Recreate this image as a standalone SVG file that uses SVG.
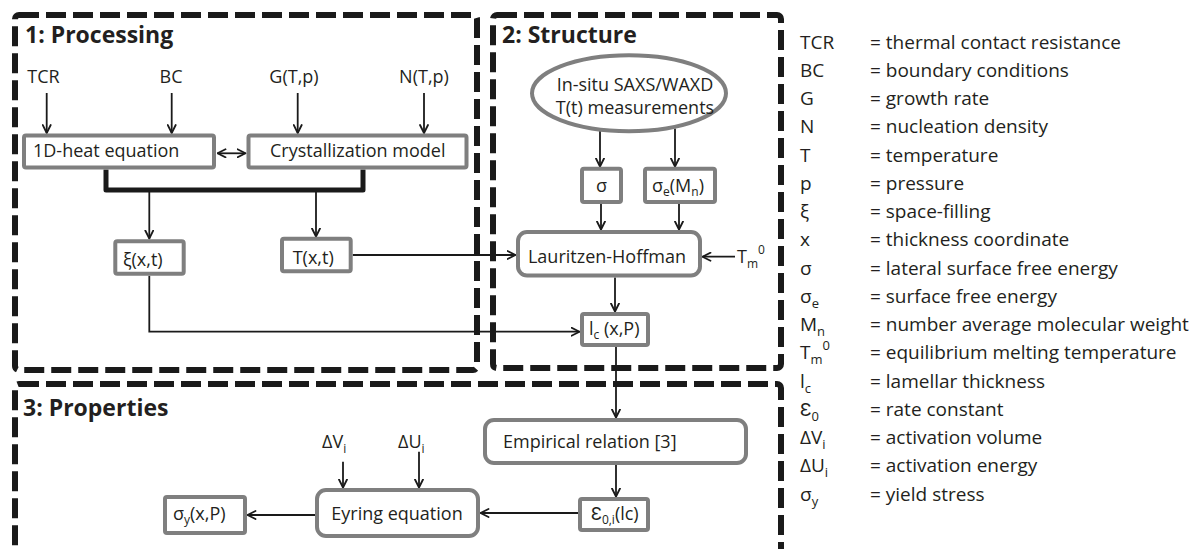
<svg xmlns="http://www.w3.org/2000/svg" width="1204" height="549" viewBox="0 0 1204 549">
<defs>
<style>
.frame{fill:none;stroke:#1a1a1a;stroke-width:6;stroke-dasharray:20 7}
.box{fill:#fff;stroke:#7f7f7f;stroke-width:4}
.t{font-family:"Open Sans","Liberation Sans",sans-serif;font-size:18px;fill:#231f20}
.title{font-family:"Open Sans","Liberation Sans",sans-serif;font-size:23px;font-weight:bold;fill:#231f20}
.lg{font-family:"Open Sans","Liberation Sans",sans-serif;font-size:19px;fill:#231f20}
.s{font-size:12px}
.ls{font-size:13px}
.c{fill:none;stroke:#1a1a1a;stroke-width:1.8}
.bar{fill:none;stroke:#1a1a1a;stroke-width:5;stroke-linejoin:round}
</style>
<marker id="ah" viewBox="0 0 10 10" refX="9" refY="5" markerWidth="10" markerHeight="10" markerUnits="userSpaceOnUse" orient="auto-start-reverse">
<path d="M1,1 L9,5 L1,9" fill="none" stroke="#1a1a1a" stroke-width="1.8" stroke-linecap="round" stroke-linejoin="round"/>
</marker>
</defs>
<rect width="1204" height="549" fill="#fff"/>

<g id="frames">
<g id="frame-processing"><rect class="frame" x="15" y="15" width="462" height="355" rx="4"/><text class="title" x="25" y="43">1: Processing</text></g>
<g id="frame-structure"><rect class="frame" x="493" y="15" width="288" height="353" rx="4"/><text class="title" x="502" y="43">2: Structure</text></g>
<g id="frame-properties"><rect class="frame" x="15" y="384" width="766" height="170" rx="4"/><text class="title" x="23" y="416">3: Properties</text></g>
</g>

<g id="connectors">
<path class="c" d="M46.7,93 V133" marker-end="url(#ah)"/>
<path class="c" d="M171.7,93 V133" marker-end="url(#ah)"/>
<path class="c" d="M297.7,93 V133" marker-end="url(#ah)"/>
<path class="c" d="M424,93 V133" marker-end="url(#ah)"/>
<path class="c" d="M217.5,153.3 H245.5" marker-start="url(#ah)" marker-end="url(#ah)"/>
<path class="bar" d="M106,169.5 V190 H363 V169.5"/>
<path class="c" d="M149.3,192 V238.5" marker-end="url(#ah)"/>
<path class="c" d="M316,192 V236.5" marker-end="url(#ah)"/>
<path class="c" d="M352.7,255 H515.5" marker-end="url(#ah)"/>
<path class="c" d="M149.3,275.7 V331.7 H579.5" marker-end="url(#ah)"/>
<path class="c" d="M600,131 V166.5" marker-end="url(#ah)"/>
<path class="c" d="M675,128.5 V166.5" marker-end="url(#ah)"/>
<path class="c" d="M601,204 V229.5" marker-end="url(#ah)"/>
<path class="c" d="M679,204 V229.5" marker-end="url(#ah)"/>
<path class="c" d="M735,256.7 H702.5" marker-end="url(#ah)"/>
<path class="c" d="M615,277.5 V311.5" marker-end="url(#ah)"/>
<path class="c" d="M616,347 V417.5" marker-end="url(#ah)"/>
<path class="c" d="M616,465 V496.5" marker-end="url(#ah)"/>
<path class="c" d="M578,513 H480.5" marker-end="url(#ah)"/>
<path class="c" d="M343,461.7 V487.5" marker-end="url(#ah)"/>
<path class="c" d="M419,451.7 V487.5" marker-end="url(#ah)"/>
<path class="c" d="M315,515 H247.5" marker-end="url(#ah)"/>
</g>

<g id="n-tcr"><text class="t" x="43.5" y="83" text-anchor="middle">TCR</text></g>
<g id="n-bc"><text class="t" x="171" y="83" text-anchor="middle">BC</text></g>
<g id="n-g"><text class="t" x="294" y="83" text-anchor="middle">G(T,p)</text></g>
<g id="n-n"><text class="t" x="424" y="83" text-anchor="middle">N(T,p)</text></g>
<g id="n-heat"><rect class="box" x="24" y="135.5" width="190" height="32" rx="2"/><text class="t" x="33" y="157">1D-heat equation</text></g>
<g id="n-cryst"><rect class="box" x="248.5" y="135.5" width="218" height="32" rx="2"/><text class="t" x="270" y="157">Crystallization model</text></g>
<g id="n-xi"><rect class="box" x="115.3" y="241.3" width="68.4" height="32.4" rx="2"/><text class="t" x="123" y="266">ξ(x,t)</text></g>
<g id="n-txt"><rect class="box" x="282" y="238.7" width="68.7" height="32.6" rx="2"/><text class="t" x="292.7" y="264">T(x,t)</text></g>

<g id="n-saxs"><ellipse class="box" cx="629" cy="93.3" rx="97" ry="38"/><text class="t" x="635" y="91" text-anchor="middle">In-situ SAXS/WAXD</text><text class="t" x="635" y="114" text-anchor="middle">T(t) measurements</text></g>
<g id="n-sigma"><rect class="box" x="582" y="168.7" width="39" height="33.3" rx="2"/><text class="t" x="601.5" y="192" text-anchor="middle">σ</text></g>
<g id="n-sigmae"><rect class="box" x="645" y="168.7" width="70" height="33.3" rx="2"/><text class="t" x="652" y="192">σ<tspan class="s" dy="4">e</tspan><tspan dy="-4">(M</tspan><tspan class="s" dy="4">n</tspan><tspan dy="-4">)</tspan></text></g>
<g id="n-lh"><rect class="box" x="518" y="232" width="182" height="43.5" rx="9"/><text class="t" x="607" y="263" text-anchor="middle">Lauritzen-Hoffman</text></g>
<g id="n-tm0"><text class="t" x="737" y="263">T<tspan class="s" dy="5">m</tspan><tspan class="s" dy="-14">0</tspan></text></g>
<g id="n-lc"><rect class="box" x="582" y="314" width="66" height="31" rx="2"/><text class="t" x="589" y="335">l<tspan class="s" dy="4">c</tspan><tspan dy="-4"> (x,P)</tspan></text></g>

<g id="n-emp"><rect class="box" x="485" y="420" width="261" height="43" rx="9"/><text class="t" x="503" y="448">Empirical relation [3]</text></g>
<g id="n-eps"><rect class="box" x="580" y="499" width="68" height="31" rx="2"/><text class="t" x="591" y="520">Ɛ<tspan class="s" dy="4">0,i</tspan><tspan dy="-4">(lc)</tspan></text></g>
<g id="n-eyring"><rect class="box" x="317" y="490" width="161" height="46" rx="9"/><text class="t" x="397" y="520" text-anchor="middle">Eyring equation</text></g>
<g id="n-dv"><text class="t" x="322" y="448">ΔV<tspan class="s" dy="5">i</tspan></text></g>
<g id="n-du"><text class="t" x="398" y="448">ΔU<tspan class="s" dy="5">i</tspan></text></g>
<g id="n-sigy"><rect class="box" x="165" y="497" width="80" height="36" rx="2"/><text class="t" x="173" y="520">σ<tspan class="s" dy="4">y</tspan><tspan dy="-4">(x,P)</tspan></text></g>

<g id="legend">
<text class="lg" x="800" y="48.5">TCR</text><text class="lg" x="870" y="48.5">= thermal contact resistance</text>
<text class="lg" x="800" y="76.75">BC</text><text class="lg" x="870" y="76.75">= boundary conditions</text>
<text class="lg" x="800" y="105">G</text><text class="lg" x="870" y="105">= growth rate</text>
<text class="lg" x="800" y="133.25">N</text><text class="lg" x="870" y="133.25">= nucleation density</text>
<text class="lg" x="800" y="161.5">T</text><text class="lg" x="870" y="161.5">= temperature</text>
<text class="lg" x="800" y="189.75">p</text><text class="lg" x="870" y="189.75">= pressure</text>
<text class="lg" x="800" y="218">ξ</text><text class="lg" x="870" y="218">= space-filling</text>
<text class="lg" x="800" y="246.25">x</text><text class="lg" x="870" y="246.25">= thickness coordinate</text>
<text class="lg" x="800" y="274.5">σ</text><text class="lg" x="870" y="274.5">= lateral surface free energy</text>
<text class="lg" x="800" y="302.75">σ<tspan class="ls" dy="5">e</tspan></text><text class="lg" x="870" y="302.75">= surface free energy</text>
<text class="lg" x="800" y="331">M<tspan class="ls" dy="5">n</tspan></text><text class="lg" x="870" y="331">= number average molecular weight</text>
<text class="lg" x="800" y="359.25">T<tspan class="ls" dy="5">m</tspan><tspan class="ls" dy="-14">0</tspan></text><text class="lg" x="870" y="359.25">= equilibrium melting temperature</text>
<text class="lg" x="800" y="387.5">l<tspan class="ls" dy="5">c</tspan></text><text class="lg" x="870" y="387.5">= lamellar thickness</text>
<text class="lg" x="800" y="415.75">Ɛ<tspan class="ls" dy="5">0</tspan></text><text class="lg" x="870" y="415.75">= rate constant</text>
<text class="lg" x="800" y="444">ΔV<tspan class="ls" dy="5">i</tspan></text><text class="lg" x="870" y="444">= activation volume</text>
<text class="lg" x="800" y="472.25">ΔU<tspan class="ls" dy="5">i</tspan></text><text class="lg" x="870" y="472.25">= activation energy</text>
<text class="lg" x="800" y="500.5">σ<tspan class="ls" dy="5">y</tspan></text><text class="lg" x="870" y="500.5">= yield stress</text>
</g>
</svg>
